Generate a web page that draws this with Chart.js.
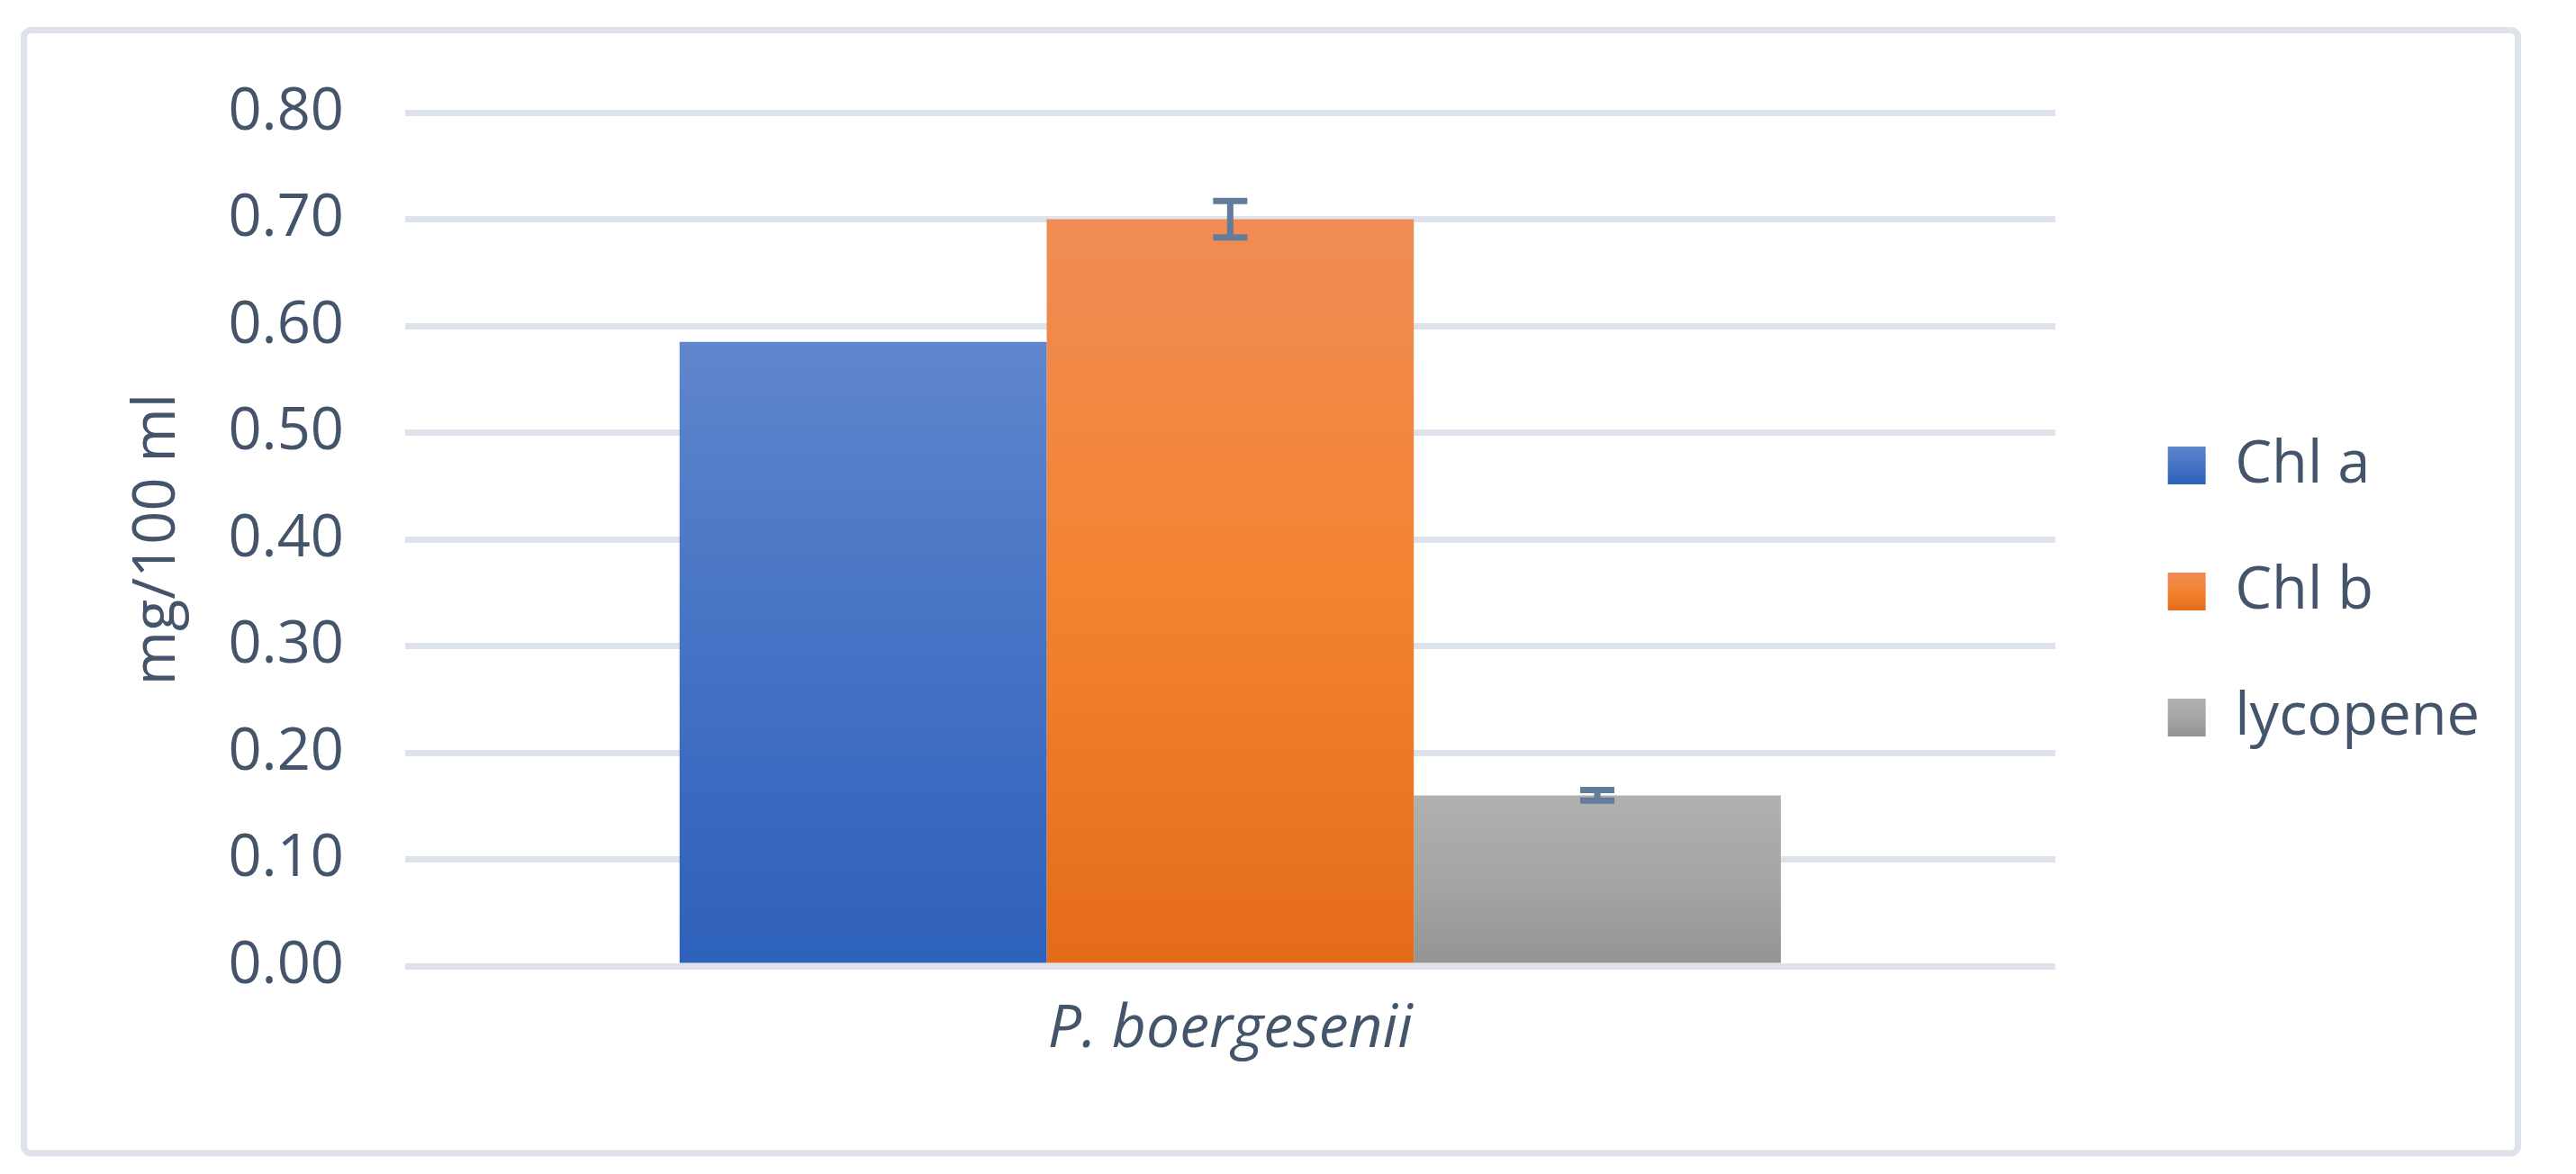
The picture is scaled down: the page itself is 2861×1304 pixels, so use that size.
<!DOCTYPE html>
<html><head><meta charset="utf-8">
<script src="https://cdn.jsdelivr.net/npm/chart.js@4/dist/chart.umd.min.js"></script>
<style>html,body{margin:0;padding:0;background:#fff;} canvas{display:block;}</style>
</head><body>
<canvas id="c" width="2861" height="1304"></canvas>
<script>
// ---- data ----
const categories = ['P. boergesenii'];
const seriesNames = ['Chl a', 'Chl b', 'lycopene'];
const chlA = [0.585];
const chlB = [0.70];
const lycopene = [0.16];
const chlAErr = [0];
const chlBErr = [0.017];
const lycopeneErr = [0.005];
const yTickValues = [0, 0.1, 0.2, 0.3, 0.4, 0.5, 0.6, 0.7, 0.8];
const yTickLabels = ['0.00', '0.10', '0.20', '0.30', '0.40', '0.50', '0.60', '0.70', '0.80'];
const yAxisTitle = 'mg/100 ml';

// ---- styles ----
const textColor = '#44546a';
const gridColor = '#dee2ea';
const errColor = '#647c9c';
const FONT = 65;
const blueStops = [[0, '#6086cc'], [0.5, '#4472c4'], [1, '#2e61ba']];
const orangeStops = [[0, '#f08c55'], [0.5, '#f3832f'], [1, '#e46b19']];
const greyStops = [[0, '#b0b0b0'], [0.5, '#a5a5a5'], [1, '#939393']];

Chart.defaults.font.family = "'Open Sans', sans-serif";

function barGradient(stops) {
  return (ctx) => {
    const chart = ctx.chart;
    const ys = chart.scales && chart.scales.y;
    if (!chart.chartArea || !ys || ctx.type !== 'data') return stops[1][1];
    const top = ys.getPixelForValue(ctx.raw);
    const bottom = ys.getPixelForValue(0);
    if (!isFinite(top) || !isFinite(bottom) || top === bottom) return stops[1][1];
    const g = chart.ctx.createLinearGradient(0, top, 0, bottom);
    stops.forEach(s => g.addColorStop(s[0], s[1]));
    return g;
  };
}
const allStops = [blueStops, orangeStops, greyStops];

const frame = {
  id: 'frame',
  beforeDraw(chart) {
    const c = chart.ctx;
    c.save();
    c.strokeStyle = gridColor;
    c.lineWidth = 7;
    c.beginPath();
    c.roundRect(26.5, 33.5, 2770, 1247.5, 8);
    c.stroke();
    c.restore();
  }
};

const legendGrad = {
  id: 'legendGrad',
  afterUpdate(chart) {
    const lg = chart.legend;
    if (!lg || !lg.legendItems || !lg.legendHitBoxes) return;
    lg.legendItems.forEach((it, i) => {
      const hb = lg.legendHitBoxes[i];
      if (!hb) return;
      const top = hb.top + Math.max((FONT - 42) / 2, 0);
      const g = chart.ctx.createLinearGradient(0, top, 0, top + 42);
      allStops[i].forEach(s => g.addColorStop(s[0], s[1]));
      it.fillStyle = g;
    });
  }
};

const errorBars = {
  id: 'errorBars',
  afterDatasetsDraw(chart) {
    const c = chart.ctx;
    const ys = chart.scales.y;
    c.save();
    c.strokeStyle = errColor;
    c.lineWidth = 7;
    chart.data.datasets.forEach((ds, di) => {
      const meta = chart.getDatasetMeta(di);
      meta.data.forEach((bar, i) => {
        const e = ds.errors[i];
        if (!e) return;
        const v = ds.data[i];
        const yt = ys.getPixelForValue(v + e);
        const yb = ys.getPixelForValue(v - e);
        const x = bar.x;
        const half = 19;
        c.beginPath();
        c.moveTo(x, yt); c.lineTo(x, yb);
        c.moveTo(x - half, yt); c.lineTo(x + half, yt);
        c.moveTo(x - half, yb); c.lineTo(x + half, yb);
        c.stroke();
      });
    });
    c.restore();
  }
};

new Chart(document.getElementById('c'), {
  type: 'bar',
  data: {
    labels: categories,
    datasets: [
      { label: seriesNames[0], data: chlA, errors: chlAErr, backgroundColor: barGradient(blueStops) },
      { label: seriesNames[1], data: chlB, errors: chlBErr, backgroundColor: barGradient(orangeStops) },
      { label: seriesNames[2], data: lycopene, errors: lycopeneErr, backgroundColor: barGradient(greyStops) }
    ]
  },
  options: {
    responsive: false,
    devicePixelRatio: 1,
    animation: false,
    categoryPercentage: 0.6674,
    barPercentage: 1.0,
    borderWidth: 0,
    layout: { padding: { left: 100, right: 97, top: 125, bottom: 115 } },
    plugins: {
      tooltip: { enabled: false },
      title: { display: false },
      legend: {
        position: 'right',
        align: 'center',
        labels: {
          boxWidth: 42, boxHeight: 42, padding: 75,
          color: textColor, font: { size: FONT }
        }
      }
    },
    scales: {
      x: {
        grid: { display: false, drawTicks: false },
        border: { display: false },
        ticks: { color: textColor, font: { size: 66, style: 'italic' }, padding: 32 },
        afterFit: s => { s.height = 116; }
      },
      y: {
        min: 0, max: 0.8,
        afterBuildTicks: s => { s.ticks = yTickValues.map(v => ({ value: v })); },
        ticks: { callback: (v, i) => yTickLabels[i], padding: 68, color: textColor, font: { size: FONT } },
        grid: { color: gridColor, lineWidth: 7, drawTicks: false },
        border: { display: false },
        title: { display: true, text: yAxisTitle, color: textColor, font: { size: FONT }, padding: { top: 36, bottom: 0 } },
        afterFit: s => { s.width = 350; }
      },
      yR: {
        type: 'linear', position: 'right', display: true,
        grid: { display: false, drawTicks: false },
        ticks: { display: false },
        border: { display: false },
        afterFit: s => { s.width = 50; }
      }
    }
  },
  plugins: [frame, legendGrad, errorBars]
});
</script>
</body></html>
